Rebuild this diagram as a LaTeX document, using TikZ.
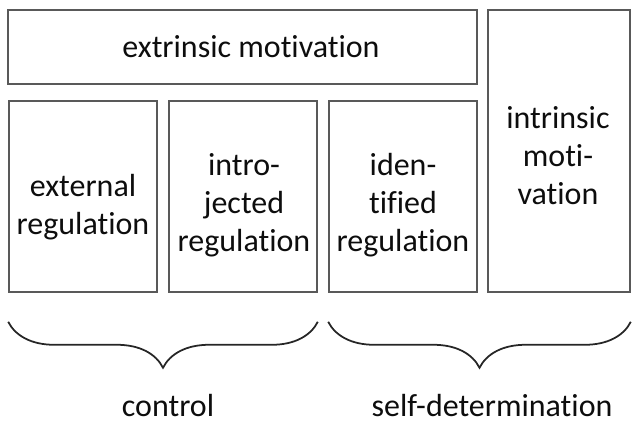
\documentclass[tikz,border=0pt]{standalone}
\usepackage{fontspec}
\setmainfont{Carlito}[Ligatures = NoCommon]
\usepackage{tikz}
\usetikzlibrary{decorations.pathreplacing}
\tikzset{box/.style = {shape = rectangle, draw = black!65, line width = 0.9pt, minimum width = 2.96cm, minimum height = 3.82cm, inner sep = 0pt}}
\tikzset{txt/.style = {align = center, text = black!95, inner sep = 0pt, font = \fontsize{18.2}{21.6}\selectfont}}
\tikzset{curly/.style = {decorate, decoration = {brace, mirror, amplitude = 0.92cm}, line width = 1pt, draw = black!85}}

\begin{document}
\begin{tikzpicture}
	\useasboundingbox (0, 0) rectangle (12.64, 8.44);

	\node[box, minimum width = 9.38cm, minimum height = 1.48cm] (em) at (4.85, 7.5) {};
	\node[box, minimum width = 2.84cm, minimum height = 5.64cm] (im) at (11.18, 5.42) {};
	\node[box] (er) at (1.66, 4.51) {};
	\node[box] (ir) at (4.86, 4.51) {};
	\node[box] (dr) at (8.06, 4.51) {};

	\node[txt] (emtext) at (5.02, 7.51) {extrinsic motivation};
	\node[txt] (imtext) at (11.16, 5.33) {intrinsic\\moti-\\vation};
	\node[txt] (ertext) at (1.66, 4.30) {external\\regulation};
	\node[txt] (irtext) at (4.88, 4.34) {intro-\\jected\\regulation};
	\node[txt] (drtext) at (8.06, 4.34) {iden-\\tified\\regulation};

	\draw[curly] ([yshift = -0.58cm] er.south west) -- ([yshift = -0.58cm] ir.south east);
	\draw[curly] ([yshift = -0.58cm] dr.south west) -- ([yshift = -0.58cm] im.south east);

	\node[txt] (ctrl) at (3.36, 0.33) {control};
	\node[txt] (sd) at (9.84, 0.33) {self-determination};
\end{tikzpicture}
\end{document}
